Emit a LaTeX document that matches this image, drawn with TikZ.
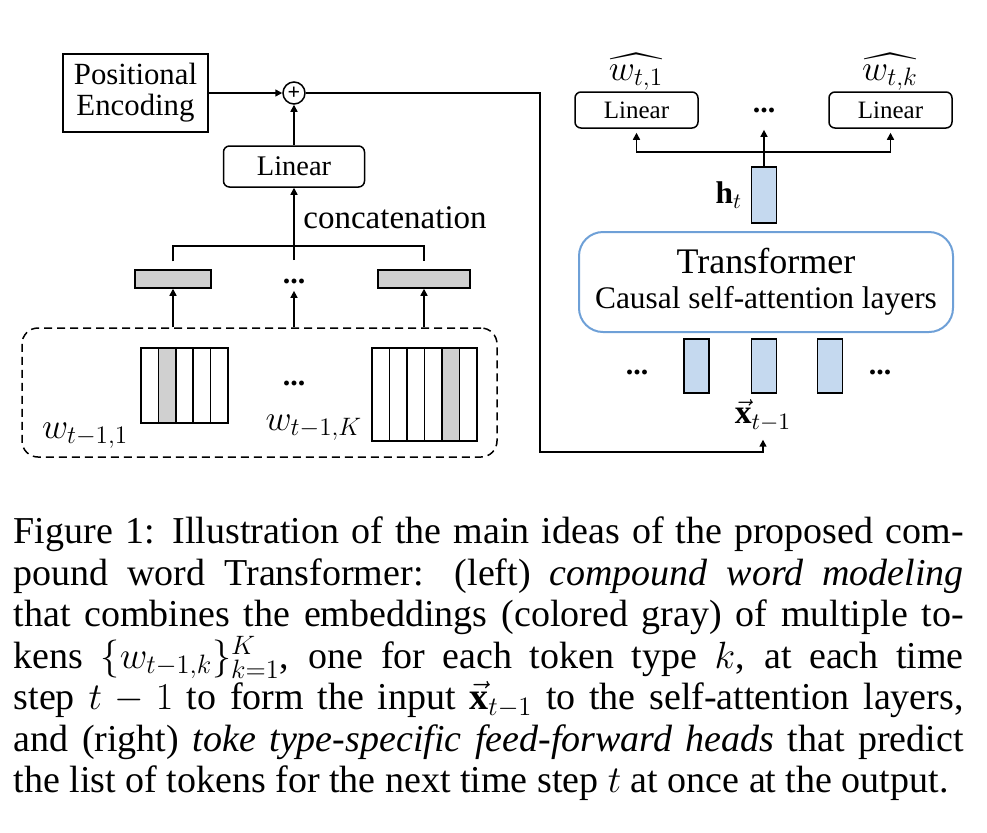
\RequirePackage{fix-cm}
\documentclass[tikz,border=0pt]{standalone}
\usepackage{amsmath}
\usepackage{amssymb}
\usepackage{fontspec}
\setmainfont{Liberation Serif}
\usepackage{xcolor}
\usetikzlibrary{positioning,arrows.meta}
\definecolor{cellgray}{RGB}{208,208,208}
\definecolor{vecblue}{RGB}{197,217,239}
\definecolor{tfblue}{RGB}{110,160,215}

\begin{document}
\begin{tikzpicture}[x=0.5pt, y=-0.5pt, line width=0.75pt,
    >={Triangle[length=3.5pt,width=3.5pt]},
    linbox/.style={draw, rounded corners=3pt, inner sep=0pt},
    embbar/.style={draw, fill=cellgray, minimum width=38pt, minimum height=9pt, inner sep=0pt},
    vecbar/.style={draw, fill=vecblue, minimum width=12.5pt, minimum height=27pt, inner sep=0pt},
    bigdots/.style={font=\fontsize{15}{15}\selectfont\bfseries}]

    % fixed picture size
    \useasboundingbox (0,0) rectangle (987,832);

    % positional encoding, sum and linear layer
    \node[draw, minimum width=72.5pt, minimum height=39pt, align=center, inner sep=0pt,
      font=\fontsize{15.4}{15.5}\selectfont] (pe) at (135.5,93) {Positional\\Encoding};
    \node[draw, circle, minimum size=11pt, inner sep=0pt,
      font=\fontsize{11}{11}\selectfont\bfseries] (plus) at (294,93) {+};
    \node[linbox, minimum width=70.5pt, minimum height=20.5pt,
      font=\fontsize{14.2}{14}\selectfont] (linL) at (294,166.5) {Linear};
    \draw[->] (pe.east) -- (plus.west);
    \draw[->] (linL.north) -- (plus.south);

    % embeddings of the tokens
    \node[embbar] (emb1) at (173,279) {};
    \node[embbar, minimum width=46pt] (embK) at (424,279) {};
    \node[bigdots] (embdots) at (294,281) {...};

    % concatenation
    \coordinate (catmid) at (294,246);
    \coordinate (catbot) at (294,260);
    \draw[shorten <=4pt, shorten >=4pt] (emb1.north) |- (catmid) -| (embK.north);
    \draw[->] (catbot) -- (linL.south)
      node[pos=0.58, right=1pt, font=\fontsize{16.5}{16.5}\selectfont] (catlbl) {concatenation};

    % one-hot tokens
    \node[draw, dash pattern=on 4pt off 2.5pt, rounded corners=8pt,
      minimum width=237.5pt, minimum height=64.5pt] (tokens) at (259.5,392.5) {};
    \fill[cellgray] (158.4,348) rectangle ++(17.4,75);
    \foreach \i in {0,...,4}
      \draw (141+\i*17.4,348) rectangle ++(17.4,75);
    \fill[cellgray] (442,348) rectangle ++(17.5,93);
    \foreach \i in {0,...,5}
      \draw (372+\i*17.5,348) rectangle ++(17.5,93);
    \node[bigdots] (tokdots) at (294,383) {...};
    \node[anchor=base east, inner sep=0pt, font=\fontsize{18}{18}\selectfont] (w1) at (129,438) {$w_{t-1,1}$};
    \node[anchor=base east, inner sep=0pt, font=\fontsize{18}{18}\selectfont] (wK) at (363,430) {$w_{t-1,K}$};
    \draw[->] (tokens.north -| emb1) -- (emb1.south);
    \draw[->] (tokens.north -| embdots) -- (embdots.south);
    \draw[->] (tokens.north -| embK) -- (embK.south);

    % output heads
    \node[linbox, minimum width=61.5pt, minimum height=18pt,
      font=\fontsize{12.5}{12.5}\selectfont] (lin1) at (636.5,110) {Linear};
    \node[linbox, minimum width=61.5pt, minimum height=18pt,
      font=\fontsize{12.5}{12.5}\selectfont] (linK) at (890.5,110) {Linear};
    \node[bigdots] (lindots) at (764,110) {...};
    \node[anchor=base, inner sep=0pt, font=\fontsize{18}{18}\selectfont] (hat1) at (636,80) {$\widehat{w_{t,1}}$};
    \node[anchor=base, inner sep=0pt, font=\fontsize{18}{18}\selectfont] (hatK) at (890,80) {$\widehat{w_{t,k}}$};

    % hidden state
    \node[vecbar, minimum height=28pt] (hvec) at (764,195) {};
    \node[left=4pt of hvec, inner sep=0pt, font=\fontsize{15.7}{15.7}\selectfont] (hlbl) {$\mathbf{h}_t$};
    \coordinate (hsplit) at (764,152);
    \draw[<->, shorten <=2pt, shorten >=2pt] (lin1.south) |- (hsplit) -| (linK.south);
    \draw[->, shorten >=5pt] (hvec.north) -- (lindots.south);

    % transformer
    \node[draw=tfblue, line width=1pt, rounded corners=12pt, minimum width=187pt,
      minimum height=50pt, align=center, font=\fontsize{15.7}{17.5}\selectfont] (tf) at (766,282)
      {{\fontsize{18}{17.5}\selectfont Transformer}\\Causal self-attention layers};

    % input sequence
    \foreach \x/\n in {696.5/xa,764/xb,830/xc}
      \node[vecbar] (\n) at (\x,366) {};
    \node[bigdots] (xdotsL) at (637,372) {...};
    \node[bigdots] (xdotsR) at (880,372) {...};
    \node[inner sep=1pt, font=\fontsize{16.8}{16.8}\selectfont] (xvec) at (763,415) {$\vec{\mathbf{x}}_{t-1}$};
    \coordinate (route) at (540,452);
    \draw[->, shorten >=3pt] (plus.east) -| (route) -| (xvec.south);

    % caption
    \node[anchor=north west, inner sep=0pt, text width=475pt, align=justify,
      font=\fontsize{19}{20.75}\selectfont] (caption) at (13,516)
      {Figure 1: Illustration of the main ideas of the proposed com-\linebreak
      pound word Transformer: (left) \textit{compound word modeling}\linebreak
      that combines the embeddings (colored gray) of multiple to-\linebreak
      kens $\{w_{t-1,k}\}_{k=1}^{K}$, one for each token type $k$, at each time\linebreak
      step $t-1$ to form the input $\vec{\mathbf{x}}_{t-1}$ to the self-attention layers,\linebreak
      and (right) \textit{toke type-specific feed-forward heads} that predict\linebreak
      the list of tokens for the next time step $t$ at once at the output.};
\end{tikzpicture}
\end{document}
